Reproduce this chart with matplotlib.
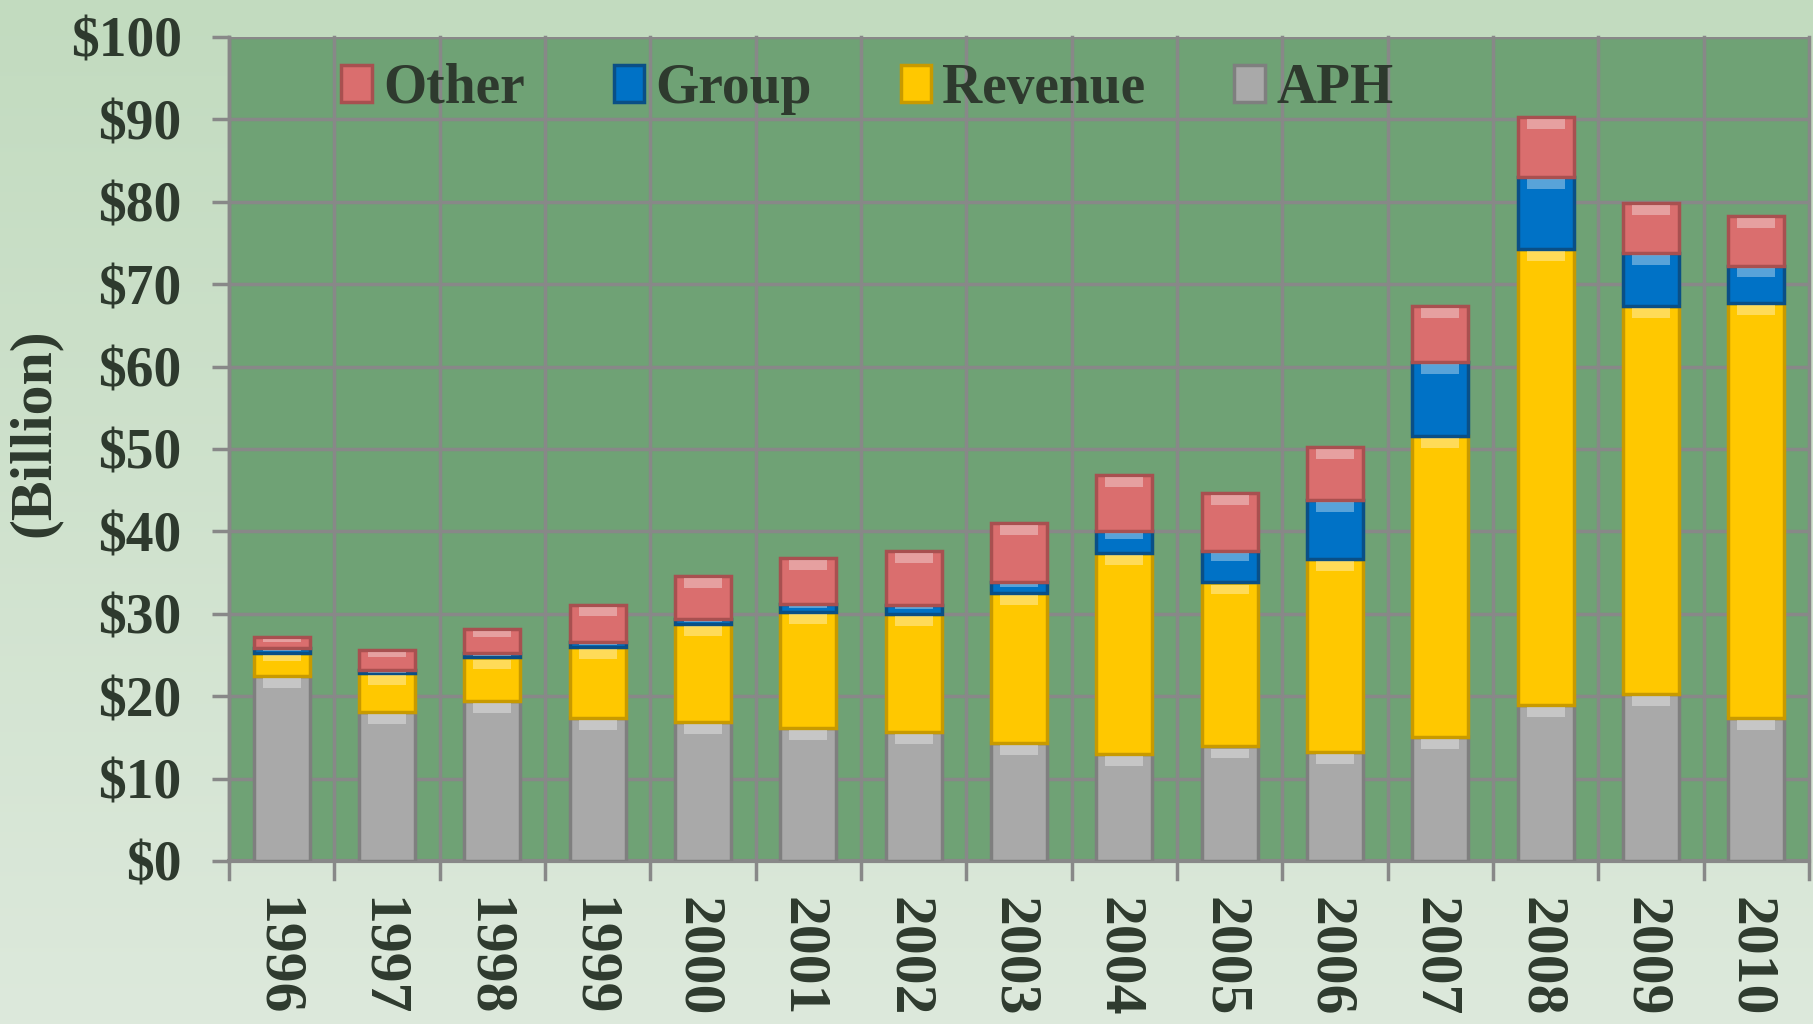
import numpy as np
import matplotlib.pyplot as plt
import matplotlib.transforms as mtransforms

# datos (miles de millones de dolares)
years = ['1996', '1997', '1998', '1999', '2000', '2001', '2002', '2003',
         '2004', '2005', '2006', '2007', '2008', '2009', '2010']
aph = [22.4, 18.1, 19.4, 17.4, 16.9, 16.1, 15.7, 14.3, 13.0, 13.9, 13.2, 15.1, 18.9, 20.3, 17.3]
revenue = [2.9, 4.7, 5.3, 8.6, 11.9, 14.1, 14.3, 18.2, 24.4, 19.9, 23.5, 36.5, 55.4, 47.0, 50.4]
group = [0.5, 0.4, 0.5, 0.6, 0.6, 1.0, 1.1, 1.4, 2.6, 3.8, 7.1, 9.0, 8.7, 6.5, 4.5]
other = [1.4, 2.4, 3.0, 4.5, 5.2, 5.6, 6.5, 7.1, 6.8, 7.1, 6.4, 6.7, 7.3, 6.0, 6.1]

series = [('APH', aph, '#a9a9a9', '#7f7f7f'),
          ('Revenue', revenue, '#ffc800', '#c89a00'),
          ('Group', group, '#0072c6', '#0a4f86'),
          ('Other', other, '#da6e6e', '#a85050')]

fuente = ['Liberation Serif', 'DejaVu Serif']
color_texto = '#2e3a2e'

fig = plt.figure(figsize=(18.13, 10.24), dpi=100)

# fondo con degradado suave
bg = fig.add_axes([0, 0, 1, 1], zorder=-10)
grad = np.linspace(0, 1, 256).reshape(-1, 1)
bg.imshow(grad, aspect='auto', cmap=plt.matplotlib.colors.LinearSegmentedColormap.from_list(
    'g', ['#c2dbbf', '#dde9dc']), extent=[0, 1, 0, 1])
bg.axis('off')

ax = fig.add_axes([0.1263, 0.1592, 0.8715, 0.8047])
ax.set_facecolor('#6fa275')

x = np.arange(len(years))
bottom = np.zeros(len(years))
handles = {}
for name, vals, color, edge in series:
    vals = np.array(vals)
    b = ax.bar(x, vals, 0.53, bottom=bottom, color=color, edgecolor=edge,
               linewidth=2.5, zorder=3, label=name)
    # brillo en la parte superior de cada segmento
    alto = np.minimum(vals * 0.25, 1.2)
    ax.bar(x, alto, 0.36, bottom=bottom + vals - alto - 0.25,
           color='white', alpha=0.35, linewidth=0, zorder=4)
    handles[name] = b
    bottom += vals

ax.set_xlim(-0.5, len(years) - 0.5)
ax.set_ylim(0, 100)
ax.set_yticks(np.arange(0, 101, 10))
ax.set_yticklabels(['$%d' % v for v in range(0, 101, 10)], fontsize=40,
                   fontweight='bold', family=fuente, color=color_texto)

ax.set_xticks(x)
ax.set_xticklabels(years, rotation=270, fontsize=43, fontweight='bold',
                   family=fuente, color=color_texto)
ax.tick_params(axis='x', length=0, pad=26)
ax.tick_params(axis='y', length=12, width=2.5, color='#888888', pad=22)

# correr un poco las etiquetas de los años a la izquierda
desplazo = mtransforms.ScaledTranslation(-6 / 100, 0, fig.dpi_scale_trans)
for lab in ax.get_xticklabels():
    lab.set_transform(lab.get_transform() + desplazo)

# grilla
for v in range(10, 101, 10):
    ax.axhline(v, color='#888888', linewidth=2.5, zorder=1)
for i in range(len(years) + 1):
    ax.plot([i - 0.5, i - 0.5], [-2.2, 100], color='#888888', linewidth=2.5,
            zorder=1, clip_on=False)

for s in ['top', 'right']:
    ax.spines[s].set_visible(False)
ax.spines['left'].set_color('#888888')
ax.spines['left'].set_linewidth(2.5)
ax.spines['bottom'].set_color('#888888')
ax.spines['bottom'].set_linewidth(3)

ax.set_ylabel('(Billion)', fontsize=43, fontweight='bold', family=fuente,
              color=color_texto)
ax.yaxis.set_label_coords(-0.106, 0.52)

orden = ['Other', 'Group', 'Revenue', 'APH']
leg = ax.legend([handles[n] for n in orden], orden, loc='center',
                bbox_to_anchor=(0.404, 0.937), ncol=4, frameon=False,
                prop={'family': fuente, 'size': 40, 'weight': 'bold'},
                handlelength=0.55, handleheight=0.65, handletextpad=0.2,
                columnspacing=1.6)
for t in leg.get_texts():
    t.set_color(color_texto)

fig.savefig('out.png', dpi=100)
